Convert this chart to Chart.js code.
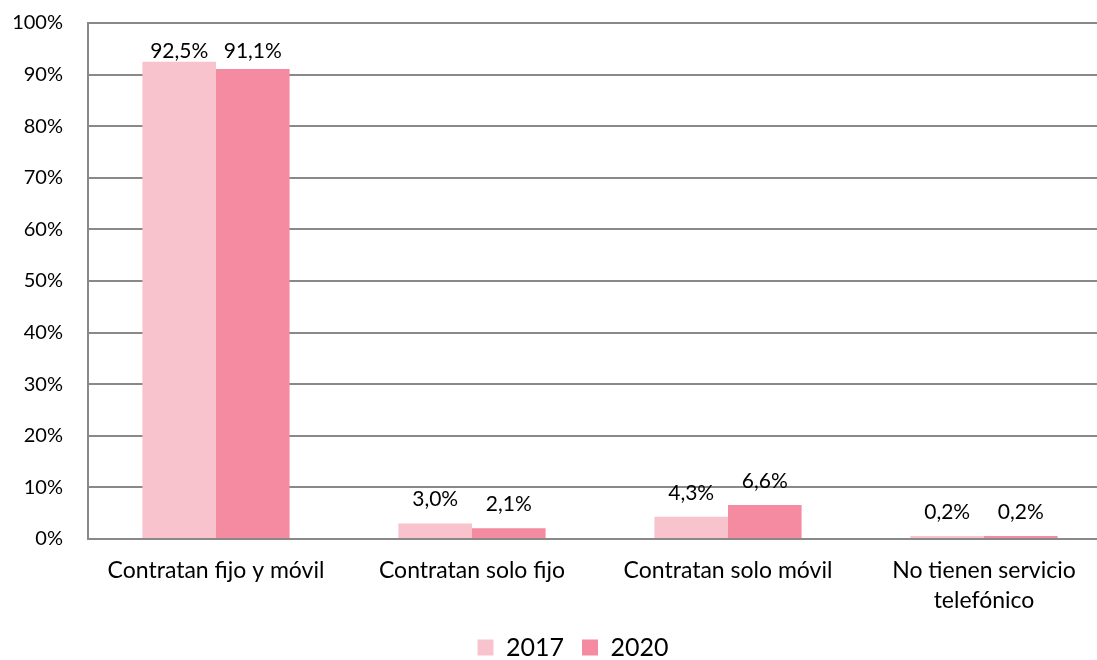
<!DOCTYPE html>
<html>
<head>
<meta charset="utf-8">
<script src="https://cdn.jsdelivr.net/npm/chart.js@4/dist/chart.umd.min.js"></script>
<style>
  html, body { margin: 0; padding: 0; background: #fff; }
  #wrap { width: 1097px; height: 660px; overflow: hidden; position: relative; }
  #chart { position: absolute; left: 0; top: 0; }
</style>
</head>
<body>
<div id="wrap"><canvas id="chart" width="1112" height="670"></canvas></div>
<script>
// categorias y series (porcentajes)
const categorias = [
  'Contratan fijo y móvil',
  'Contratan solo fijo',
  'Contratan solo móvil',
  ['No tienen servicio', 'telefónico']
];
const valores2017 = [92.5, 3.0, 4.3, 0.2];
const valores2020 = [91.1, 2.1, 6.6, 0.2];
const ticksY = [0, 10, 20, 30, 40, 50, 60, 70, 80, 90, 100];

const FONT = 'Lato, "Open Sans", sans-serif';
const GRIS = '#898989';

// etiquetas encima de cada barra
const etiquetasBarras = {
  id: 'etiquetasBarras',
  afterDatasetsDraw(chart) {
    const { ctx, chartArea } = chart;
    ctx.save();
    ctx.font = `21px ${FONT}`;
    ctx.fillStyle = '#000';
    ctx.textAlign = 'center';
    ctx.textBaseline = 'middle';
    chart.data.datasets.forEach((ds, i) => {
      chart.getDatasetMeta(i).data.forEach((bar, j) => {
        const txt = ds.data[j].toFixed(1).replace('.', ',') + '%';
        const y = Math.max(bar.y - 24, chartArea.top + 28);
        ctx.fillText(txt, bar.x, y);
      });
    });
    ctx.restore();
  }
};

// la leyenda va algo a la derecha del centro
const moverLeyenda = {
  id: 'moverLeyenda',
  afterLayout(chart) {
    if (chart.legend) {
      chart.legend.left += 17;
      chart.legend.right += 17;
    }
  }
};

new Chart(document.getElementById('chart'), {
  type: 'bar',
  data: {
    labels: categorias,
    datasets: [
      { label: '2017', data: valores2017, backgroundColor: '#F8C3CC', borderWidth: 0 },
      { label: '2020', data: valores2020, backgroundColor: '#F48BA1', borderWidth: 0 }
    ]
  },
  options: {
    responsive: false,
    animation: false,
    layout: { padding: { left: 0, top: 23, right: 0, bottom: 0 } },
    datasets: { bar: { categoryPercentage: 0.575, barPercentage: 1, minBarLength: 3 } },
    plugins: {
      tooltip: { enabled: false },
      legend: {
        position: 'bottom',
        labels: {
          color: '#000',
          font: { family: FONT, size: 25 },
          boxWidth: 16,
          boxHeight: 16,
          padding: 18
        }
      }
    },
    scales: {
      x: {
        grid: { display: false, drawTicks: false },
        border: { display: true, color: GRIS, width: 2 },
        ticks: {
          color: '#000',
          font: { family: FONT, size: 23, lineHeight: 1.3 },
          padding: 17,
          maxRotation: 0
        },
        afterFit: (s) => { s.height = 78; }
      },
      y: {
        min: 0,
        max: 100,
        afterBuildTicks: (s) => { s.ticks = ticksY.map(v => ({ value: v })); },
        // hueco entre etiquetas y eje con marcas invisibles
        grid: { color: GRIS, lineWidth: 2, drawTicks: true, tickLength: 25, tickColor: 'rgba(0,0,0,0)' },
        border: { display: true, color: GRIS, width: 2 },
        ticks: {
          color: '#000',
          font: { family: FONT, size: 20 },
          padding: 0,
          callback: (v) => v + '%'
        },
        afterFit: (s) => { s.width = 88; }
      }
    }
  },
  plugins: [etiquetasBarras, moverLeyenda]
});
</script>
</body>
</html>
